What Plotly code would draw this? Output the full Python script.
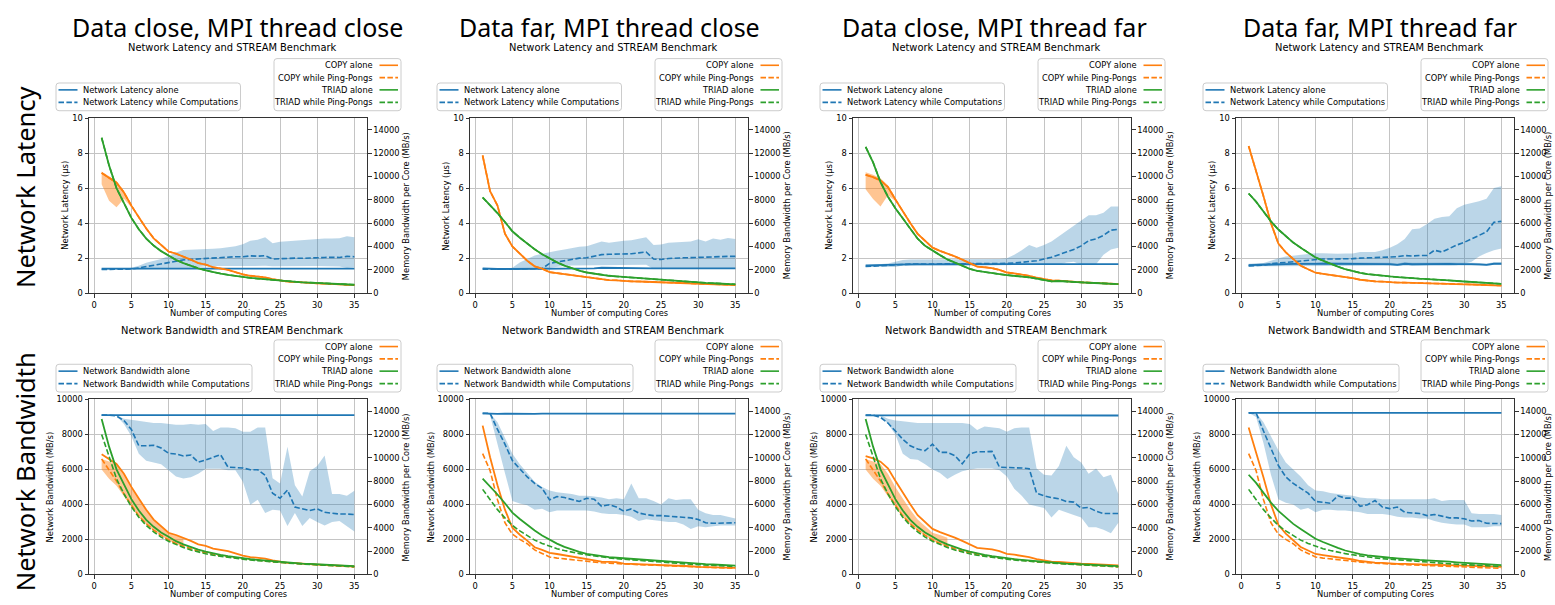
import plotly.graph_objects as go

W, H = 1555, 605
cores = list(range(1, 36))

col_titles = ["Data close, MPI thread close", "Data far, MPI thread close",
              "Data close, MPI thread far", "Data far, MPI thread far"]
row_titles = ["Network Latency", "Network Bandwidth"]
sub_titles = ["Network Latency and STREAM Benchmark", "Network Bandwidth and STREAM Benchmark"]
left_labels = ["Network Latency (μs)", "Network Bandwidth (MB/s)"]
right_label = "Memory Bandwidth per Core (MB/s)"
x_label = "Number of computing Cores"
net_names = [["Network Latency alone", "Network Latency while Computations"],
             ["Network Bandwidth alone", "Network Bandwidth while Computations"]]
mem_names = ["COPY alone", "COPY while Ping-Pongs", "TRIAD alone", "TRIAD while Ping-Pongs"]
x_ticks = [0, 5, 10, 15, 20, 25, 30, 35]
left_ticks = [[0, 2, 4, 6, 8, 10], [0, 2000, 4000, 6000, 8000, 10000]]
right_ticks = [0, 2000, 4000, 6000, 8000, 10000, 12000, 14000]

# ---------------- Network latency (us) ----------------
lat_alone_1 = [1.40,1.40,1.39,1.40,1.40,1.40,1.41,1.41,1.40,1.39,1.41,1.42,1.42,1.42,1.42,1.42,1.42,1.41,1.41,1.41,1.41,1.41,1.41,1.41,1.40,1.40,1.40,1.40,1.40,1.40,1.40,1.39,1.38,1.40,1.40]
lat_comp_1 = [1.35,1.36,1.37,1.37,1.38,1.44,1.52,1.60,1.68,1.76,1.84,1.90,1.93,1.96,2.00,2.02,2.04,2.06,2.08,2.08,2.13,2.11,2.14,1.95,1.98,2.00,2.00,1.99,2.02,2.03,2.04,2.05,2.04,2.10,2.08]
lat_lo_1 = [1.32,1.33,1.34,1.34,1.35,1.36,1.37,1.38,1.38,1.39,1.40,1.41,1.42,1.50,1.54,1.55,1.55,1.55,1.55,1.55,1.56,1.55,1.56,1.53,1.53,1.54,1.54,1.54,1.55,1.55,1.55,1.54,1.52,1.44,1.48]
lat_hi_1 = [1.40,1.40,1.40,1.40,1.45,1.57,1.74,1.85,1.95,2.12,2.32,2.46,2.47,2.48,2.50,2.53,2.56,2.60,2.68,2.80,3.00,3.05,3.20,2.85,2.93,2.96,3.00,3.00,3.05,3.10,3.12,3.12,3.14,3.25,3.20]

lat_alone_2 = [1.42,1.39,1.38,1.38,1.38,1.40,1.40,1.40,1.40,1.40,1.41,1.41,1.41,1.41,1.42,1.42,1.45,1.44,1.43,1.43,1.43,1.43,1.43,1.42,1.42,1.42,1.42,1.42,1.42,1.42,1.43,1.43,1.45,1.45,1.42]
lat_comp_2 = [1.37,1.37,1.37,1.37,1.38,1.38,1.38,1.38,1.40,1.70,1.78,1.85,1.95,2.00,2.02,2.10,2.20,2.22,2.22,2.25,2.25,2.30,2.35,1.95,1.92,1.98,2.02,2.02,2.03,2.05,2.05,2.07,2.08,2.10,2.10]
lat_lo_2 = [1.34,1.34,1.34,1.34,1.35,1.35,1.36,1.36,1.37,1.45,1.52,1.55,1.58,1.58,1.58,1.60,1.62,1.62,1.62,1.62,1.62,1.62,1.62,1.38,1.38,1.38,1.38,1.38,1.38,1.38,1.38,1.38,1.38,1.38,1.38]
lat_hi_2 = [1.40,1.40,1.40,1.40,1.45,1.75,1.95,2.15,2.25,2.35,2.42,2.50,2.58,2.65,2.68,2.80,2.95,2.88,2.95,3.00,3.02,3.10,3.20,2.75,2.78,2.88,2.90,2.92,2.95,3.08,2.95,3.12,3.05,3.15,3.10]

lat_alone_3 = [1.58,1.58,1.60,1.62,1.63,1.65,1.66,1.65,1.64,1.63,1.64,1.65,1.65,1.65,1.65,1.65,1.65,1.65,1.65,1.65,1.65,1.65,1.64,1.64,1.64,1.65,1.65,1.65,1.65,1.64,1.66,1.66,1.66,1.66,1.66]
lat_comp_3 = [1.52,1.55,1.57,1.58,1.60,1.65,1.66,1.66,1.66,1.66,1.67,1.67,1.67,1.67,1.68,1.68,1.68,1.69,1.69,1.70,1.72,1.75,1.80,1.85,1.95,2.05,2.20,2.35,2.50,2.70,3.00,3.10,3.30,3.60,3.65]
lat_lo_3 = [1.50,1.50,1.50,1.50,1.50,1.58,1.58,1.58,1.58,1.58,1.58,1.58,1.58,1.58,1.58,1.58,1.58,1.58,1.58,1.58,1.62,1.62,1.62,1.62,1.62,1.62,1.62,1.75,1.80,1.62,1.62,1.65,2.20,2.50,2.60]
lat_hi_3 = [1.60,1.62,1.65,1.70,1.80,1.90,1.92,1.92,1.93,1.93,1.93,1.94,1.94,1.94,1.94,1.94,1.94,1.95,1.95,2.00,2.20,2.45,2.75,2.60,2.75,2.95,3.25,3.55,3.85,4.15,4.45,4.45,4.60,4.95,4.95]

lat_alone_4 = [1.60,1.62,1.63,1.65,1.66,1.66,1.67,1.66,1.68,1.67,1.68,1.68,1.69,1.70,1.68,1.70,1.68,1.69,1.70,1.66,1.62,1.68,1.65,1.66,1.68,1.66,1.66,1.67,1.66,1.67,1.66,1.64,1.62,1.68,1.68]
lat_alone_lo_4 = [1.54,1.56,1.57,1.59,1.60,1.60,1.61,1.60,1.62,1.61,1.62,1.62,1.63,1.64,1.62,1.64,1.62,1.63,1.64,1.60,1.57,1.62,1.59,1.60,1.62,1.60,1.60,1.61,1.60,1.61,1.60,1.58,1.57,1.62,1.62]
lat_alone_hi_4 = [1.68,1.70,1.71,1.73,1.74,1.74,1.75,1.74,1.76,1.75,1.76,1.76,1.77,1.78,1.76,1.78,1.76,1.77,1.78,1.74,1.70,1.76,1.73,1.74,1.76,1.74,1.74,1.75,1.74,1.75,1.74,1.72,1.70,1.76,1.76]
lat_comp_4 = [1.55,1.57,1.60,1.68,1.72,1.76,1.80,1.85,1.90,1.95,1.95,1.95,1.95,1.96,1.97,2.00,2.02,2.00,2.02,2.05,2.08,2.15,2.12,2.15,2.15,2.45,2.35,2.55,2.75,2.90,3.10,3.30,3.50,4.05,4.10]
lat_lo_4 = [1.50,1.52,1.54,1.56,1.57,1.58,1.58,1.58,1.58,1.58,1.58,1.58,1.58,1.58,1.58,1.58,1.58,1.58,1.58,1.58,1.58,1.58,1.58,1.58,1.58,1.58,1.58,1.58,1.60,1.70,1.80,2.10,2.30,2.45,2.55]
lat_hi_4 = [1.65,1.68,1.72,1.85,2.00,2.10,2.15,2.20,2.25,2.28,2.28,2.25,2.25,2.27,2.27,2.35,2.35,2.35,2.45,2.60,2.80,3.10,3.65,3.70,3.95,4.25,4.35,4.40,4.85,5.05,5.15,5.25,5.40,6.00,6.10]

# ---------------- Network bandwidth (MB/s) ----------------
bw_alone_1 = [9100,9100,9095,9100,9100,9095,9100,9100,9100,9095,9100,9100,9100,9100,9100,9105,9100,9100,9100,9100,9100,9100,9100,9100,9100,9100,9100,9100,9100,9095,9100,9100,9100,9100,9100]
bw_comp_1 = [9100,9100,9050,8790,8280,7350,7350,7380,7220,6920,6880,6770,6820,6410,6540,6690,6840,6130,6090,6080,5980,5980,5660,4640,4350,4820,3850,3750,3650,3750,3550,3500,3450,3450,3420]
bw_lo_1 = [9100,9100,9050,8600,7900,6900,6500,6400,6300,5950,5600,5480,5550,5750,6040,6040,6040,5950,5950,5290,3980,4260,3510,3700,3650,2770,3510,2770,3230,3000,2800,3000,3050,2750,2450]
bw_hi_1 = [9100,9100,9100,8900,8840,8800,8750,8650,8650,8600,8550,8550,8600,8550,8600,8200,8400,8400,8350,8150,8150,8400,8400,5500,5200,7300,5100,4450,5900,6200,6800,4600,4600,4500,4780]

bw_alone_2 = [9200,9170,9170,9180,9170,9180,9180,9170,9180,9180,9180,9180,9170,9180,9180,9190,9170,9190,9180,9180,9190,9180,9180,9170,9180,9180,9180,9180,9170,9180,9180,9180,9180,9180,9180]
bw_comp_2 = [9200,9210,8280,7440,6500,6040,5570,5200,4920,4260,4450,4390,4260,4170,4350,4300,3890,3980,3850,3610,3740,3510,3420,3360,3360,3330,3290,3230,3230,3140,2950,2920,2920,2950,2950]
bw_lo_2 = [9200,9100,7500,5800,4200,4050,3950,3700,3750,3550,3650,3650,3650,3650,3650,3600,3500,3450,3450,3400,3300,3050,3150,3100,3050,3000,3000,2850,2600,2750,2700,2750,2800,2800,2800]
bw_hi_2 = [9200,9200,8700,7800,6900,6300,5800,5300,5000,4800,4700,4650,4600,4500,4500,4450,4400,4300,4350,4300,5200,4350,4350,4200,4000,4350,4250,4300,4300,3700,3500,3400,3400,3300,3200]

bw_alone_3 = [9090,9090,9085,9080,9080,9080,9085,9080,9080,9080,9080,9080,9085,9080,9080,9080,9080,9080,9080,9085,9080,9080,9080,9080,9080,9080,9080,9080,9080,9080,9080,9080,9080,9080,9080]
bw_comp_3 = [9100,9100,8970,8650,8190,7720,7350,7160,7070,7440,6970,6970,6790,6320,6880,7010,7010,7030,6130,6090,6090,6080,6040,4640,4490,4390,4320,4170,4130,3790,3830,3610,3480,3480,3480]
bw_lo_3 = [9100,9100,9050,8600,8000,6900,6600,6550,6300,6000,5800,5450,5700,5900,6000,6050,6050,6050,5950,5600,4900,4500,4000,3900,3800,3250,3700,3550,3400,3250,2700,2700,2550,2350,2950]
bw_hi_3 = [9100,9100,9100,8900,8800,8750,8700,8650,8650,8650,8650,8650,8650,8650,8600,8250,8450,8400,8350,8150,8350,8400,8400,6050,5700,5650,6200,7350,6700,6400,5750,6050,5550,5700,4600]

bw_alone_4 = [9230,9230,9230,9230,9230,9230,9230,9230,9230,9230,9230,9230,9230,9230,9230,9230,9230,9230,9230,9230,9230,9230,9230,9230,9230,9230,9230,9230,9230,9230,9230,9230,9230,9230,9230]
bw_comp_4 = [9230,9230,8190,7250,6220,5570,5200,4920,4640,4170,4110,4070,4490,4360,4360,3890,3980,4220,3850,3760,3850,3550,3510,3480,3360,3420,3330,3230,3230,3180,3050,3080,2920,2920,2900]
bw_lo_4 = [9230,9000,7500,5700,4300,4100,4000,3700,3800,3550,3700,3700,3650,3650,3600,3550,3450,3450,3450,3400,3300,3250,3250,3200,3200,3050,2950,2900,2850,2850,2700,2700,2700,2750,2750]
bw_hi_4 = [9230,9230,8700,7900,7100,6400,6000,5600,5100,4800,4750,4650,4600,4550,4500,4400,4350,4350,4300,4300,4300,4300,4300,4300,4300,4350,4200,4250,4250,4250,3500,3450,3450,3450,3400]

# ---------------- STREAM memory bandwidth per core (MB/s) ----------------
copy_alone_1 = [10300,9890,9470,8630,7500,6510,5540,4700,4130,3570,3380,3150,2870,2580,2450,2220,2100,2000,1800,1610,1490,1440,1350,1200,1100,990,960,900,870,840,810,780,750,720,680]
triad_alone_1 = [13320,10950,9000,7650,6450,5475,4680,4080,3600,3225,2850,2580,2325,2130,1950,1800,1680,1575,1470,1380,1305,1245,1185,1125,1065,1020,975,930,900,870,840,810,780,750,720]
copy_pp_1 = [9900,9000,8000,6900,5900,5000,4350,3800,3350,2950,2650,2400,2200,2000,1850,1720,1600,1500,1420,1340,1270,1200,1140,1080,1030,980,940,900,860,820,790,760,720,690,650]
triad_pp_1 = [12000,10000,8200,6900,5800,4900,4200,3650,3200,2850,2550,2300,2100,1920,1770,1650,1550,1460,1380,1300,1230,1170,1110,1060,1010,970,930,890,860,830,780,750,720,690,660]

copy_alone_2 = [11800,8740,7500,5100,4000,3350,2780,2300,2100,1800,1740,1630,1550,1460,1380,1240,1150,1120,1100,1040,1010,1000,980,950,920,900,880,860,840,820,800,780,760,730,700]
copy_alone_2b = [12750,10040,7650,5550,4000,3400,2900,2330,2100,1850,1750,1650,1550,1450,1300,1200,1100,1080,1050,930,910,890,870,850,785,770,750,730,700,645,630,610,590,575,560]
triad_alone_2 = [8200,7560,6850,6100,5300,4750,4250,3760,3340,2980,2640,2360,2140,1940,1770,1660,1550,1490,1430,1380,1320,1290,1240,1210,1150,1080,1040,1000,960,920,880,850,820,790,760]
copy_pp_2 = [10350,8900,6400,4430,3450,3000,2630,2100,1800,1500,1400,1330,1260,1200,1100,1050,1000,960,920,880,850,830,810,790,760,740,720,700,680,650,620,600,580,550,520]
triad_pp_2 = [7290,6390,5550,4850,4200,3730,3310,2940,2660,2410,2200,2050,1900,1780,1680,1580,1500,1420,1350,1300,1240,1180,1120,1070,1020,980,940,900,870,840,800,770,740,710,680]

copy_alone_3 = [10140,9940,9660,9100,8030,6990,6010,5080,4470,3900,3620,3400,3150,2870,2580,2280,2220,2140,1990,1770,1690,1600,1490,1320,1180,1100,1070,1010,960,930,900,870,840,810,780]
triad_alone_3 = [12530,11210,9520,8260,7280,6380,5450,4660,4050,3620,3260,2890,2610,2360,2080,1910,1800,1710,1630,1550,1490,1430,1350,1240,1150,1010,1040,980,950,920,890,860,830,800,780]

copy_alone_4 = [12600,10500,8300,6000,4250,3500,2900,2350,2050,1750,1650,1560,1480,1400,1280,1150,1060,1010,990,930,910,900,890,880,860,840,820,800,780,760,740,720,700,680,650]
triad_alone_4 = [8540,7840,6990,6150,5450,4890,4330,3900,3480,3060,2780,2500,2280,2050,1880,1740,1630,1550,1490,1430,1380,1320,1290,1240,1210,1150,1120,1090,1040,1000,960,920,880,840,800]

# spread of COPY runs (first cores only, where visible)
copy_band_lo_t1 = [9330,7920,7360,8100,7350]
copy_band_hi_t1 = [10430,10020,9600,8780,7620]
copy_band_lo_t3 = [8900,8060,7420,8400,7900]
copy_band_hi_t3 = [10350,10150,9850,9250,8200]
copy_band_lo_b = [9000,8200,7600,6700,5800,4950,4300,3750,3300,2900,2600,2380]
copy_band_hi_b = [9900,9700,9470,8630,7500,6510,5540,4700,4130,3570,3380,3150]

# ---------------- styling ----------------
BLUE, ORANGE, GREEN = "#1f77b4", "#ff7f0e", "#2ca02c"
BLUE_FILL = "rgba(31,119,180,0.3)"
ORANGE_FILL = "rgba(255,127,14,0.45)"
GRID = "#c4c4c4"
AXC = "#333333"
FONT = "DejaVu Sans"
FS = 8.3
DASH = "5.5px,2.4px"

COL_LEFT = [89, 470, 853, 1236]
PLOT_W = 278
ROW_TOP = [115, 401]
PLOT_H = 178
RIGHT_TITLE_OFF = [38.5, 38.5, 38.5, 34]

panels = [
    dict(net=(lat_alone_1, lat_comp_1, lat_lo_1, lat_hi_1), alone_band=None, mem=(copy_alone_1, copy_alone_1, triad_alone_1, triad_alone_1), band=(copy_band_lo_t1, copy_band_hi_t1)),
    dict(net=(lat_alone_2, lat_comp_2, lat_lo_2, lat_hi_2), alone_band=None, mem=(copy_alone_2, copy_alone_2, triad_alone_2, triad_alone_2), band=None),
    dict(net=(lat_alone_3, lat_comp_3, lat_lo_3, lat_hi_3), alone_band=None, mem=(copy_alone_3, copy_alone_3, triad_alone_3, triad_alone_3), band=(copy_band_lo_t3, copy_band_hi_t3)),
    dict(net=(lat_alone_4, lat_comp_4, lat_lo_4, lat_hi_4), alone_band=(lat_alone_lo_4, lat_alone_hi_4), mem=(copy_alone_4, copy_alone_4, triad_alone_4, triad_alone_4), band=None),
    dict(net=(bw_alone_1, bw_comp_1, bw_lo_1, bw_hi_1), alone_band=None, mem=(copy_alone_1, copy_pp_1, triad_alone_1, triad_pp_1), band=(copy_band_lo_b, copy_band_hi_b)),
    dict(net=(bw_alone_2, bw_comp_2, bw_lo_2, bw_hi_2), alone_band=None, mem=(copy_alone_2b, copy_pp_2, triad_alone_2, triad_pp_2), band=None),
    dict(net=(bw_alone_3, bw_comp_3, bw_lo_3, bw_hi_3), alone_band=None, mem=(copy_alone_3, copy_pp_1, triad_alone_1, triad_pp_1), band=(copy_band_lo_b, copy_band_hi_b)),
    dict(net=(bw_alone_4, bw_comp_4, bw_lo_4, bw_hi_4), alone_band=None, mem=(copy_alone_4, copy_pp_2, triad_alone_4, triad_pp_2), band=None),
]


def fx(px):
    return px / W


def fy(py):
    return 1 - py / H


fig = go.Figure()
layout = {}
shapes = []
annotations = []


def text(x, y, s, size=FS, xanchor="center", yanchor="middle", angle=0, family=FONT):
    annotations.append(dict(xref="paper", yref="paper", x=fx(x), y=fy(y), text=s, showarrow=False,
                            xanchor=xanchor, yanchor=yanchor, textangle=angle, borderpad=0,
                            font=dict(family=family, size=size, color="black")))


def box(x0, x1, y0, y1, r=3):
    rx, ry = r / W, r / H
    a0, a1 = fx(x0), fx(x1)
    b0, b1 = fy(y0), fy(y1)  # b0 top (larger), b1 bottom
    path = (f"M {a0 + rx},{b0} L {a1 - rx},{b0} Q {a1},{b0} {a1},{b0 - ry} "
            f"L {a1},{b1 + ry} Q {a1},{b1} {a1 - rx},{b1} L {a0 + rx},{b1} Q {a0},{b1} {a0},{b1 + ry} "
            f"L {a0},{b0 - ry} Q {a0},{b0} {a0 + rx},{b0} Z")
    shapes.append(dict(type="path", xref="paper", yref="paper", path=path,
                       line=dict(color="#cccccc", width=1), fillcolor="rgba(255,255,255,0.8)", layer="above"))


def sample(x0, x1, y, color, dash):
    shapes.append(dict(type="line", xref="paper", yref="paper", x0=fx(x0), x1=fx(x1), y0=fy(y), y1=fy(y),
                       line=dict(color=color, width=1.6, dash=dash), layer="above"))


for p, pan in enumerate(panels):
    row, col = divmod(p, 4)
    L = COL_LEFT[col]
    R = L + PLOT_W
    T = ROW_TOP[row]
    B = T + PLOT_H
    xid = "x" if p == 0 else f"x{p + 1}"
    yl = 2 * p + 1
    yr = 2 * p + 2
    ylid = "y" if yl == 1 else f"y{yl}"
    yrid = f"y{yr}"

    alone, comp, lo, hi = pan["net"]
    # network series on left axis
    if pan["alone_band"] is not None:
        alo, ahi = pan["alone_band"]
        fig.add_trace(go.Scatter(x=cores + cores[::-1], y=ahi + alo[::-1], fill="toself", fillcolor=BLUE_FILL,
                                 line=dict(width=0), mode="lines", xaxis=xid, yaxis=ylid, showlegend=False, hoverinfo="skip"))
    fig.add_trace(go.Scatter(x=cores + cores[::-1], y=hi + lo[::-1], fill="toself", fillcolor=BLUE_FILL,
                             line=dict(width=0), mode="lines", xaxis=xid, yaxis=ylid, showlegend=False, hoverinfo="skip"))
    fig.add_trace(go.Scatter(x=cores, y=alone, mode="lines", line=dict(color=BLUE, width=1.8),
                             xaxis=xid, yaxis=ylid, showlegend=False, hoverinfo="skip"))
    fig.add_trace(go.Scatter(x=cores, y=comp, mode="lines", line=dict(color=BLUE, width=1.6, dash=DASH),
                             xaxis=xid, yaxis=ylid, showlegend=False, hoverinfo="skip"))

    # memory series on right axis
    c_al, c_pp, t_al, t_pp = pan["mem"]
    if pan["band"] is not None:
        blo, bhi = pan["band"]
        bx = cores[:len(blo)]
        fig.add_trace(go.Scatter(x=bx + bx[::-1], y=bhi + blo[::-1], fill="toself", fillcolor=ORANGE_FILL,
                                 line=dict(width=0), mode="lines", xaxis=xid, yaxis=yrid, showlegend=False, hoverinfo="skip"))
    fig.add_trace(go.Scatter(x=cores, y=c_al, mode="lines", line=dict(color=ORANGE, width=1.8),
                             xaxis=xid, yaxis=yrid, showlegend=False, hoverinfo="skip"))
    fig.add_trace(go.Scatter(x=cores, y=c_pp, mode="lines", line=dict(color=ORANGE, width=1.6, dash=DASH),
                             xaxis=xid, yaxis=yrid, showlegend=False, hoverinfo="skip"))
    fig.add_trace(go.Scatter(x=cores, y=t_al, mode="lines", line=dict(color=GREEN, width=1.8),
                             xaxis=xid, yaxis=yrid, showlegend=False, hoverinfo="skip"))
    fig.add_trace(go.Scatter(x=cores, y=t_pp, mode="lines", line=dict(color=GREEN, width=1.6, dash=DASH),
                             xaxis=xid, yaxis=yrid, showlegend=False, hoverinfo="skip"))

    common = dict(showline=True, linecolor=AXC, linewidth=1, ticks="outside", ticklen=3.5, tickwidth=0.8,
                  tickcolor=AXC, zeroline=False, tickfont=dict(family=FONT, size=FS, color="black"))
    layout["xaxis" if p == 0 else f"xaxis{p + 1}"] = dict(
        domain=[fx(L), fx(R)], anchor=ylid, range=[-0.7, 36.7], tickmode="array", tickvals=x_ticks,
        showgrid=True, gridcolor=GRID, gridwidth=0.8, mirror=True, **common)
    ymax = 10 if row == 0 else 10000
    layout["yaxis" if yl == 1 else f"yaxis{yl}"] = dict(
        domain=[fy(B), fy(T)], anchor=xid, range=[0, ymax], tickmode="array", tickvals=left_ticks[row],
        tickformat="d", showgrid=True, gridcolor=GRID, gridwidth=0.8, **common)
    layout[f"yaxis{yr}"] = dict(
        overlaying=ylid, side="right", anchor=xid, range=[0, 15000], tickmode="array", tickvals=right_ticks,
        tickformat="d", showgrid=False, **common)

    # texts
    text((L + R) / 2 + 4, 43 if row == 0 else 331, sub_titles[row], size=9.9)
    text((L + R) / 2, B + 20, x_label)
    text(L - (24 if row == 0 else 39.5), (T + B) / 2, left_labels[row], angle=-90)
    text(R + RIGHT_TITLE_OFF[col], (T + B) / 2, right_label, angle=-90)

    # left legend (network)
    box(L - 33, L + (151.5 if row == 0 else 163), T - 35.7, T - 7.5)
    for i, (yy, dash) in enumerate([(T - 28.7, "solid"), (T - 16, DASH)]):
        sample(L - 30.5, L - 11.5, yy, BLUE, dash)
        text(L - 7, yy, net_names[row][i], xanchor="left")
    # right legend (memory)
    box(L + 185, L + 312, T - 60.5, T - 7.5)
    mem_styles = [(ORANGE, "solid"), (ORANGE, DASH), (GREEN, "solid"), (GREEN, DASH)]
    for i, yy in enumerate([T - 53.7, T - 41.2, T - 28.7, T - 16]):
        c, d = mem_styles[i]
        sample(L + 290.5, L + 309, yy, c, d)
        text(L + 285, yy, mem_names[i], xanchor="right")

# column titles and row titles
for xc, t in zip([237, 609, 994, 1380], col_titles):
    text(xc, 22, t, size=25, family="Noto Sans")
text(25, 186, row_titles[0], size=25.5, angle=-90, family="Noto Sans")
text(25, 475, row_titles[1], size=25.5, angle=-90, family="Noto Sans")

fig.update_layout(width=W, height=H, margin=dict(l=0, r=0, t=0, b=0), autosize=False,
                  paper_bgcolor="white", plot_bgcolor="white", showlegend=False,
                  font=dict(family=FONT, size=FS, color="black"),
                  shapes=shapes, annotations=annotations, **layout)
fig.write_html("out.html")
